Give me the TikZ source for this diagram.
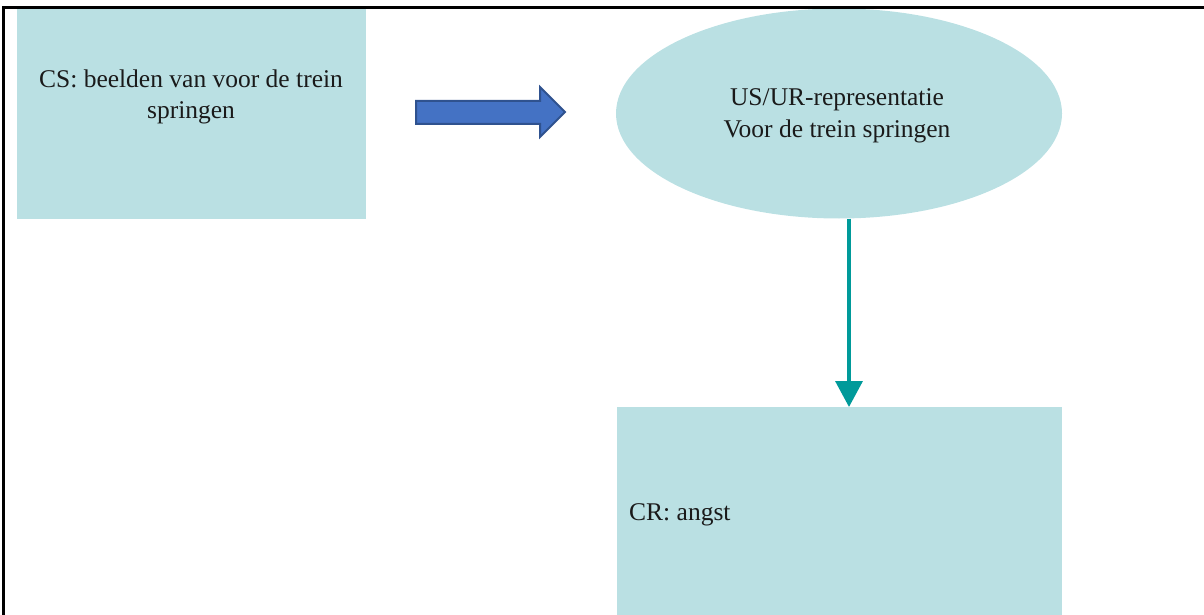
\documentclass[tikz,border=0pt]{standalone}
\usepackage{fontspec}
\setmainfont{Liberation Serif}
\usetikzlibrary{arrows.meta,shapes.geometric}

\definecolor{boxfill}{HTML}{BAE0E3}
\definecolor{blockblue}{HTML}{4472C4}
\definecolor{blockedge}{HTML}{2F528F}
\definecolor{tealline}{HTML}{009A9A}
\definecolor{inktext}{HTML}{1A1A1A}

\tikzset{
  panel/.style={fill=boxfill, draw=none, inner sep=0pt, outer sep=0pt},
  txt/.style={font=\fontsize{25.5}{30}\selectfont, text=inktext, inner sep=0pt, anchor=base},
  flow/.style={draw=tealline, line width=3.5pt,
    -{Triangle[width=27pt,length=26pt]}, shorten >=0pt},
  blockarrow/.style={fill=blockblue, draw=blockedge, line width=2pt, line join=miter}
}

\begin{document}
\begin{tikzpicture}[x=1pt,y=-1pt]
  \useasboundingbox (0,0) rectangle (1204,615);

  % boxes and ellipse
  \node[panel, rectangle, anchor=north west, minimum width=349pt, minimum height=211pt] (cs) at (17,8) {};
  \node[panel, ellipse, minimum width=446pt, minimum height=210pt] (us) at (839,113.5) {};
  \node[panel, rectangle, anchor=north west, minimum width=445pt, minimum height=215pt] (cr) at (617,407) {};

  % texts
  \node[txt] (cs1) at (191,88) {CS: beelden van voor de trein};
  \node[txt] (cs2) at (191,118) {springen};
  \node[txt] (us1) at (837,106) {US/UR-representatie};
  \node[txt] (us2) at (837,137) {Voor de trein springen};
  \node[txt, anchor=base west] (cr1) at (629,520) {CR: angst};

  % block arrow from the CS box towards the representation
  \coordinate (ba) at (416,101);
  \draw[blockarrow] (ba) -- (540,101) -- (540,87) -- (565,112) -- (540,137) -- (540,124) -- (416,124) -- cycle;

  % response arrow
  \draw[flow] (us.south -| 849,0) -- (cr.north -| 849,0);

  % frame lines
  \draw[line width=2.5pt] (3.5,615) -- (3.5,7.5) -- (1204,7.5);
\end{tikzpicture}
\end{document}
